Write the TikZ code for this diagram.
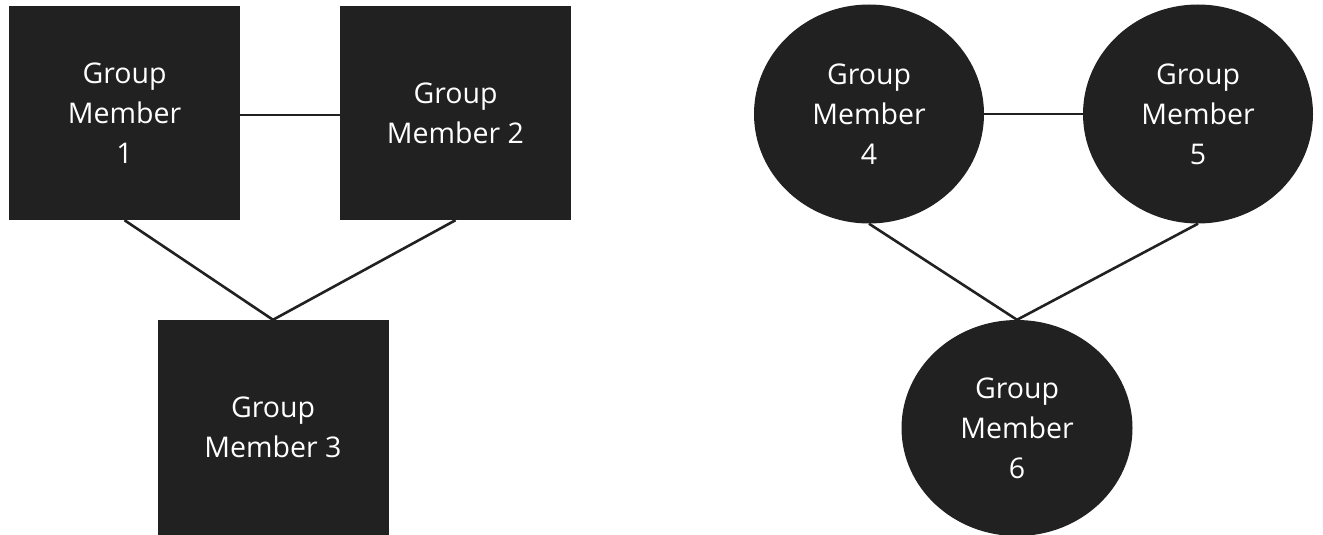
\documentclass[tikz,border=0pt]{standalone}
\usepackage{fontspec}
\setmainfont{Open Sans}
\usetikzlibrary{shapes.geometric}
\definecolor{memberfill}{HTML}{212121}
\tikzset{
  member/.style={fill=memberfill, draw=none, text=white, align=center, inner sep=0pt,
    font=\fontsize{28.5}{40}\selectfont},
  squarebox/.style={member, rectangle, minimum width=231pt, minimum height=214pt},
  roundbox/.style={member, ellipse, minimum width=230pt, minimum height=219pt},
  link/.style={draw=memberfill, line width=2.6pt}
}
\begin{document}
\begin{tikzpicture}[x=1pt, y=-1pt]
  \useasboundingbox (0,0) rectangle (1323,535);
  % square group
  \node[squarebox] (m1) at (124.5,113) {Group\\Member\\1};
  \node[squarebox] (m2) at (455.5,113) {Group\\Member 2};
  \node[squarebox, minimum height=215pt] (m3) at (273,427.5) {Group\\Member 3};
  % round group
  \node[roundbox] (m4) at (869,114) {Group\\Member\\4};
  \node[roundbox] (m5) at (1198,114) {Group\\Member\\5};
  \node[roundbox, minimum width=231pt, minimum height=216pt] (m6) at (1017,428) {Group\\Member\\6};
  % connectors
  \draw[link] (m1.east |- 0,115) -- (m2.west |- 0,115);
  \draw[link] (m1.south) -- (m3.north);
  \draw[link] (m2.south) -- (m3.north);
  \draw[link] (m4.east) -- (m5.west);
  \draw[link] (m4.south) -- (m6.north);
  \draw[link] (m5.south) -- (m6.north);
\end{tikzpicture}
\end{document}
